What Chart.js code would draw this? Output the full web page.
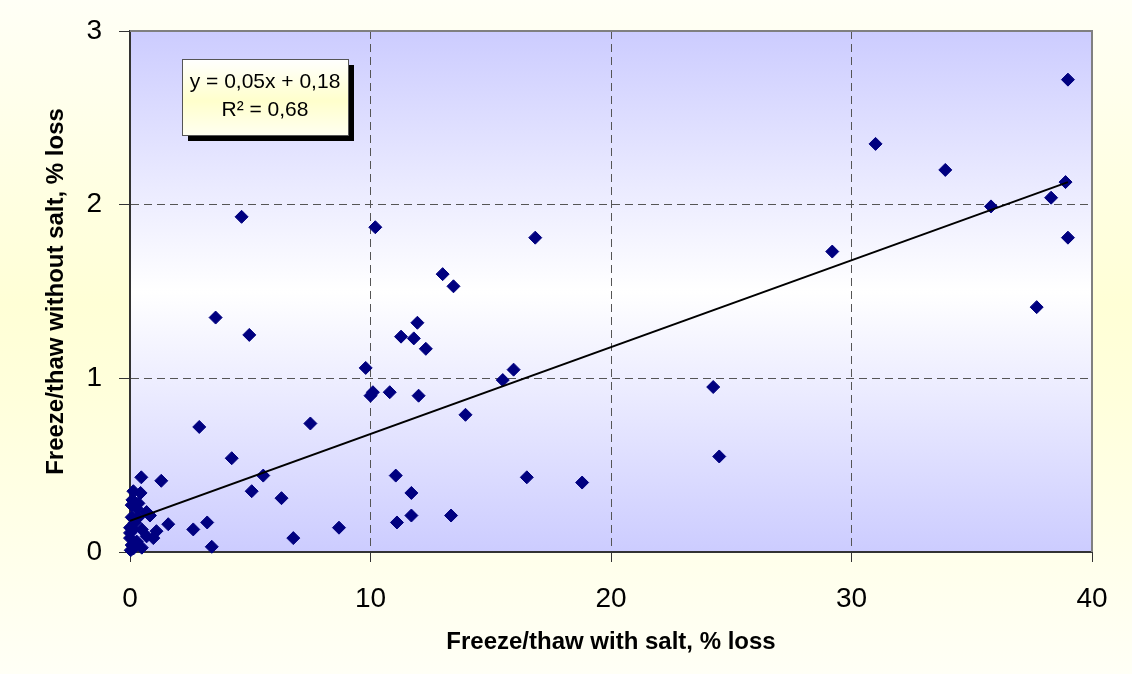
<!DOCTYPE html>
<html>
<head>
<meta charset="utf-8">
<script src="https://cdn.jsdelivr.net/npm/chart.js@4.4.1/dist/chart.umd.min.js"></script>
<style>
  html, body { margin: 0; padding: 0; }
  #wrap {
    width: 1132px; height: 674px; position: relative;
    background: linear-gradient(to bottom, #fffff6 0%, #ffffd6 45%, #ffffdc 60%, #fffff6 100%);
  }
</style>
</head>
<body>
<div id="wrap"><canvas id="grafico"></canvas></div>
<script>
// losses per specimen: with salt (x) and without salt (y), in %
const comSal = [
  39.0, 31.0, 33.9, 35.8, 38.3, 38.9, 39.0, 29.2, 37.7,
  24.25, 24.5, 18.8, 16.5,
  10.2, 16.85, 13.0, 13.45, 11.95, 11.27, 11.8, 12.3, 9.8, 10.0, 10.1, 10.8, 12.0,
  13.95, 15.5, 15.95, 7.5, 11.05, 11.1, 11.7, 11.7, 13.35,
  4.64, 3.56, 4.96, 2.88, 4.23, 5.54, 5.06, 6.3, 8.69, 6.79, 3.21, 2.63, 3.4, 1.59, 1.3, 0.47,
  0.14, 0.44, 0.07, 0.35, 0.28, 0.83, 0.69, 0.07, 0.0, 0.14, 0.49, 0.69, 0.97, 1.1,
  0.0, 0.07, 0.03, 0.49, 0.28, 0.0, 0.14, 0.2, 0.35, 0.1
];
const semSal = [
  2.72, 2.35, 2.20, 1.99, 2.04, 2.13, 1.81, 1.73, 1.41,
  0.95, 0.55, 0.40, 0.43,
  1.87, 1.81, 1.60, 1.53, 1.32, 1.24, 1.23, 1.17, 1.06, 0.90, 0.92, 0.92, 0.90,
  0.79, 0.99, 1.05, 0.74, 0.44, 0.17, 0.34, 0.21, 0.21,
  1.93, 1.35, 1.25, 0.72, 0.54, 0.44, 0.35, 0.31, 0.14, 0.08, 0.17, 0.13, 0.03, 0.16, 0.41, 0.43,
  0.35, 0.34, 0.27, 0.28, 0.25, 0.21, 0.23, 0.20, 0.14, 0.13, 0.13, 0.09, 0.08, 0.12,
  0.08, 0.04, 0.01, 0.025, 0.06, 0.11, 0.02, 0.17, 0.20, 0.30
];

// linear trend, as printed in the label
const inclinacao = 0.05;
const intercepto = 0.18;
const textoEquacao = ['y = 0,05x + 0,18', 'R² = 0,68'];

const xTicks = [0, 10, 20, 30, 40];
const yTicks = [0, 1, 2, 3];

const pontos = comSal.map((x, i) => ({ x: x, y: semSal[i] }));
const xMin = Math.min(...comSal);
const xMax = Math.max(...comSal);
const tendencia = [
  { x: xMin, y: inclinacao * xMin + intercepto },
  { x: xMax, y: inclinacao * xMax + intercepto }
];

// plot background (blue-white-blue) plus grey frame on top and right
const fundoPlot = {
  id: 'fundoPlot',
  beforeDatasetsDraw(chart) {
    const { ctx, chartArea: a } = chart;
    const g = ctx.createLinearGradient(0, a.top, 0, a.bottom);
    g.addColorStop(0, '#ccccff');
    g.addColorStop(0.5, '#ffffff');
    g.addColorStop(1, '#ccccff');
    ctx.save();
    ctx.globalCompositeOperation = 'destination-over';
    ctx.fillStyle = g;
    ctx.fillRect(a.left, a.top, a.right - a.left, a.bottom - a.top);
    ctx.restore();
    ctx.save();
    ctx.strokeStyle = '#808080';
    ctx.lineWidth = 2;
    ctx.beginPath();
    ctx.moveTo(a.left, a.top);
    ctx.lineTo(a.right, a.top);
    ctx.lineTo(a.right, a.bottom);
    ctx.stroke();
    ctx.restore();
  }
};

// equation label box with drop shadow
const caixaEquacao = {
  id: 'caixaEquacao',
  afterDraw(chart) {
    const { ctx, chartArea: a } = chart;
    const bx = a.left + 52, by = a.top + 28, bw = 166, bh = 76;
    ctx.save();
    ctx.fillStyle = '#000000';
    ctx.fillRect(bx + 6, by + 6, bw, bh);
    const g = ctx.createLinearGradient(0, by, 0, by + bh);
    g.addColorStop(0, '#ffffff');
    g.addColorStop(0.55, '#ffffcc');
    g.addColorStop(1, '#fffff0');
    ctx.fillStyle = g;
    ctx.fillRect(bx, by, bw, bh);
    ctx.strokeStyle = '#555555';
    ctx.lineWidth = 1;
    ctx.strokeRect(bx + 0.5, by + 0.5, bw, bh);
    ctx.fillStyle = '#000000';
    ctx.font = '21px "Liberation Sans", Arial, sans-serif';
    ctx.textAlign = 'center';
    ctx.textBaseline = 'middle';
    ctx.fillText(textoEquacao[0], bx + bw / 2, by + 23);
    ctx.fillText(textoEquacao[1], bx + bw / 2, by + 51);
    ctx.restore();
  }
};

// no grid line on the first and last tick (frame/axis lines are there)
const semBorda = (ctx) =>
  (ctx.index === 0 || ctx.index === ctx.scale.ticks.length - 1) ? 'rgba(0,0,0,0)' : '#555555';

new Chart(document.getElementById('grafico'), {
  type: 'scatter',
  data: {
    datasets: [
      {
        label: 'Perdas',
        data: pontos,
        pointStyle: 'rectRot',
        pointRadius: 6.5,
        pointHoverRadius: 6.5,
        backgroundColor: '#000080',
        borderColor: '#000080',
        borderWidth: 1,
        clip: false,
        order: 2
      },
      {
        type: 'line',
        label: 'Tendência',
        data: tendencia,
        borderColor: '#000000',
        borderWidth: 2,
        pointRadius: 0,
        fill: false,
        order: 1
      }
    ]
  },
  options: {
    responsive: true,
    maintainAspectRatio: false,
    animation: false,
    layout: { padding: { top: 27, right: 40, left: 0, bottom: 0 } },
    plugins: {
      legend: { display: false },
      tooltip: { enabled: false }
    },
    scales: {
      x: {
        type: 'linear',
        min: 0, max: 40,
        afterFit(scale) { scale.height = 122; },
        afterBuildTicks(scale) { scale.ticks = xTicks.map(v => ({ value: v })); },
        border: { display: true, color: '#333333', width: 2, dash: [8, 5] },
        grid: {
          color: semBorda,
          lineWidth: 1,
          tickLength: 10,
          tickColor: '#333333',
          tickWidth: 1,
          tickBorderDash: []
        },
        ticks: {
          color: '#000000',
          padding: 20,
          maxRotation: 0,
          font: { family: '"Liberation Sans", Arial, sans-serif', size: 28 }
        },
        title: {
          display: true,
          text: 'Freeze/thaw with salt, % loss',
          color: '#000000',
          padding: { top: 0, bottom: 17 },
          font: { family: '"Liberation Sans", Arial, sans-serif', size: 24, weight: 'bold' }
        }
      },
      y: {
        type: 'linear',
        min: 0, max: 3,
        afterFit(scale) { scale.width = 130; },
        afterBuildTicks(scale) { scale.ticks = yTicks.map(v => ({ value: v })); },
        border: { display: true, color: '#333333', width: 2, dash: [8, 5] },
        grid: {
          color: semBorda,
          lineWidth: 1,
          tickLength: 11,
          tickColor: '#333333',
          tickWidth: 1,
          tickBorderDash: []
        },
        ticks: {
          color: '#000000',
          padding: 17,
          font: { family: '"Liberation Sans", Arial, sans-serif', size: 28, lineHeight: 1 }
        },
        title: {
          display: true,
          text: 'Freeze/thaw without salt, % loss',
          color: '#000000',
          padding: { top: 42, bottom: 0 },
          font: { family: '"Liberation Sans", Arial, sans-serif', size: 24, weight: 'bold' }
        }
      }
    }
  },
  plugins: [fundoPlot, caixaEquacao]
});
</script>
</body>
</html>
